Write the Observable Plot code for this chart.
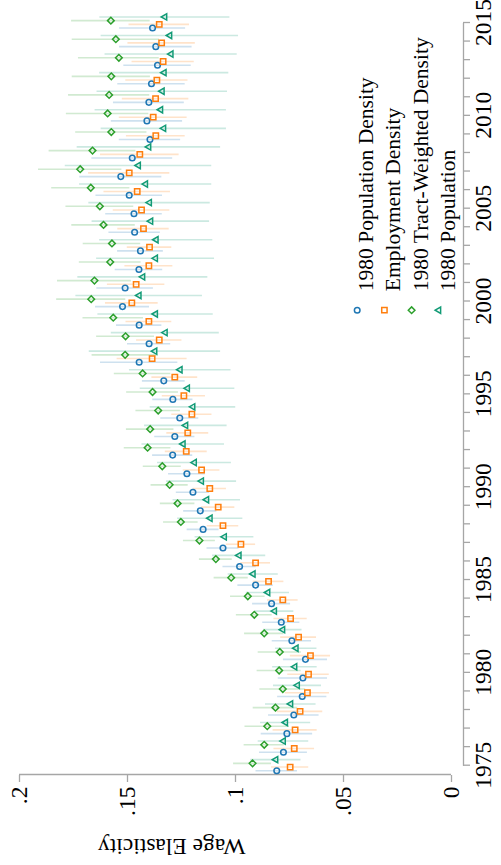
<!DOCTYPE html>
<html><head><meta charset="utf-8">
<script src="https://cdn.jsdelivr.net/npm/d3@7"></script>
<script src="https://cdn.jsdelivr.net/npm/@observablehq/plot@0.6"></script>
<style>
html,body{margin:0;padding:0;background:#fff;width:501px;height:865px;overflow:hidden;}
#wrap{position:absolute;left:0;top:0;width:865px;height:501px;transform-origin:0 0;transform:translate(0,865px) rotate(-90deg);background:#fff;}
</style></head><body><div id="wrap"></div>
<script>
// ---- data ----
const years = [1975,1976,1977,1978,1979,1980,1981,1982,1983,1984,1985,1986,1987,1988,1989,1990,1991,1992,1993,1994,1995,1996,1997,1998,1999,2000,2001,2002,2003,2004,2005,2006,2007,2008,2009,2010,2011,2012,2013,2014,2015];
const yearTicks = [1975,1976,1977,1978,1979,1980,1981,1982,1983,1984,1985,1986,1987,1988,1989,1990,1991,1992,1993,1994,1995,1996,1997,1998,1999,2000,2001,2002,2003,2004,2005,2006,2007,2008,2009,2010,2011,2012,2013,2014,2015];
const yearLabels = [1975,1980,1985,1990,1995,2000,2005,2010,2015];
const elasticityTicks = [0,0.05,0.1,0.15,0.2];
const elasticityLabels = ["0",".05",".1",".15",".2"];
const seriesNames = ["1980 Population Density","Employment Density","1980 Tract-Weighted Density","1980 Population"];

const popDensity   = [.0809,.0778,.0762,.0730,.0691,.0688,.0676,.0739,.0788,.0833,.0907,.0981,.1058,.1150,.1163,.1197,.1225,.1291,.1281,.1258,.1290,.1332,.1446,.1400,.1446,.1523,.1511,.1447,.1440,.1467,.1470,.1492,.1531,.1478,.1396,.1410,.1401,.1389,.1361,.1369,.1384];
const popDensityCI = [.0096,.0111,.0119,.0117,.0114,.0114,.0102,.0091,.0086,.0088,.0082,.0077,.0074,.0074,.0077,.0077,.0085,.0093,.0093,.0088,.0093,.0099,.0179,.0100,.0105,.0125,.0131,.0110,.0106,.0119,.0131,.0154,.0190,.0187,.0142,.0165,.0164,.0156,.0156,.0168,.0153];

const empDensity   = [.0747,.0728,.0724,.0701,.0667,.0662,.0653,.0708,.0745,.0781,.0847,.0907,.0975,.1058,.1080,.1119,.1157,.1228,.1221,.1202,.1239,.1281,.1386,.1353,.1401,.1480,.1460,.1401,.1398,.1426,.1435,.1455,.1492,.1443,.1369,.1381,.1370,.1364,.1335,.1342,.1353];
const empDensityCI = [.0086,.0094,.0102,.0105,.0102,.0096,.0093,.0083,.0077,.0071,.0071,.0069,.0068,.0073,.0077,.0077,.0085,.0097,.0097,.0093,.0100,.0106,.0162,.0105,.0106,.0122,.0133,.0111,.0103,.0119,.0131,.0154,.0188,.0182,.0136,.0157,.0154,.0144,.0144,.0156,.0140];

const tractDensity   = [.0921,.0867,.0853,.0815,.0781,.0798,.0795,.0867,.0913,.0943,.1020,.1091,.1167,.1253,.1268,.1305,.1339,.1407,.1395,.1358,.1384,.1430,.1511,.1509,.1566,.1668,.1653,.1580,.1572,.1611,.1628,.1670,.1719,.1662,.1575,.1592,.1585,.1575,.1540,.1554,.1577];
const tractDensityCI = [.0088,.0093,.0103,.0103,.0106,.0102,.0100,.0091,.0083,.0080,.0079,.0076,.0074,.0080,.0080,.0086,.0088,.0108,.0110,.0103,.0120,.0131,.0153,.0134,.0140,.0160,.0171,.0143,.0133,.0147,.0157,.0181,.0193,.0201,.0165,.0191,.0188,.0181,.0187,.0202,.0182];

const population   = [.0813,.0778,.0768,.0744,.0713,.0725,.0719,.0781,.0819,.0850,.0918,.0983,.1051,.1117,.1133,.1157,.1190,.1242,.1230,.1197,.1222,.1256,.1373,.1325,.1370,.1446,.1429,.1370,.1367,.1392,.1398,.1416,.1449,.1401,.1332,.1346,.1339,.1330,.1298,.1304,.1327];
const populationCI = [.0116,.0117,.0116,.0117,.0111,.0103,.0096,.0089,.0089,.0100,.0116,.0123,.0136,.0151,.0156,.0162,.0171,.0191,.0191,.0198,.0219,.0235,.0304,.0250,.0267,.0293,.0301,.0273,.0262,.0272,.0281,.0306,.0339,.0332,.0290,.0304,.0302,.0299,.0306,.0318,.0301];

// ---- styling ----
const FONT = "'Liberation Serif', 'Times New Roman', serif";
const series = [
  {name: seriesNames[0], est: popDensity,   ci: popDensityCI,   color: "#1f77b4", symbol: "circle",    r: 2.8, offset: -0.3},
  {name: seriesNames[1], est: empDensity,   ci: empDensityCI,   color: "#ff7f0e", symbol: "square2",   r: 3.4, offset: -0.1},
  {name: seriesNames[2], est: tractDensity, ci: tractDensityCI, color: "#2ca02c", symbol: "diamond2",  r: 3.0, offset: 0.1},
  {name: seriesNames[3], est: population,   ci: populationCI,   color: "#129b76", symbol: "triangle2", r: 3.0, offset: 0.3}
];
const rows = s => years.map((yr, i) => ({year: yr, x: yr + s.offset, est: s.est[i], lo: s.est[i] - s.ci[i], hi: s.est[i] + s.ci[i]}));

const axisGray = "#a6a6a6";
const marks = [];
// axis lines
marks.push(Plot.ruleY([0], {x1: yearTicks[0], x2: yearTicks[yearTicks.length - 1], dy: 12, stroke: axisGray, strokeWidth: 1.3}));
marks.push(Plot.ruleX([yearTicks[0]], {y1: elasticityTicks[0], y2: elasticityTicks[elasticityTicks.length - 1], dx: -9.3, stroke: axisGray, strokeWidth: 1.3}));
// axes
marks.push(Plot.axisX({ticks: yearTicks, tickFormat: d => yearLabels.includes(d) ? String(d) : "", label: null, tickSize: 7, tickPadding: 4, fontSize: 23.5, dy: 12, stroke: axisGray, fill: "black", strokeWidth: 1.3}));
marks.push(Plot.axisY({ticks: elasticityTicks, tickFormat: d => elasticityLabels[elasticityTicks.indexOf(d)], label: null, tickSize: 7, tickPadding: 5, fontSize: 23.5, dx: -9.3, stroke: axisGray, fill: "black", strokeWidth: 1.3}));
// title
marks.push(Plot.text(["Wage Elasticity"], {text: d => d, frameAnchor: "left", rotate: -90, dx: -81, dy: 10, fontSize: 23.5, fill: "black"}));
// CIs
for (const s of series) {
  marks.push(Plot.ruleX(rows(s), {x: "x", y1: "lo", y2: "hi", stroke: s.color, strokeOpacity: 0.22, strokeWidth: 1.6}));
}
// markers
for (const s of series) {
  marks.push(Plot.dot(rows(s), {x: "x", y: "est", symbol: () => s.symbol, stroke: s.color, fill: "none", r: s.r, strokeWidth: 1.5}));
}
// legend
series.forEach((s, i) => {
  marks.push(Plot.dot([s.name], {frameAnchor: "top-left", dx: 455, dy: 337.7 + i * 27.2, symbol: () => s.symbol, stroke: s.color, fill: "none", r: s.r, strokeWidth: 1.5}));
  marks.push(Plot.text([s.name], {text: d => d, frameAnchor: "top-left", dx: 474, dy: 338.5 + i * 27.2, textAnchor: "start", fontSize: 21.5, fill: "black"}));
});

const chart = Plot.plot({
  width: 865, height: 501,
  marginLeft: 99.3, marginRight: 23, marginTop: 19, marginBottom: 50,
  x: {domain: [1975, 2015], axis: null},
  y: {domain: [0, 0.2], axis: null},
  symbol: {type: "identity"},
  style: {fontFamily: FONT, background: "white", color: "black", overflow: "visible"},
  marks
});
document.getElementById("wrap").appendChild(chart);
</script>
</body></html>
